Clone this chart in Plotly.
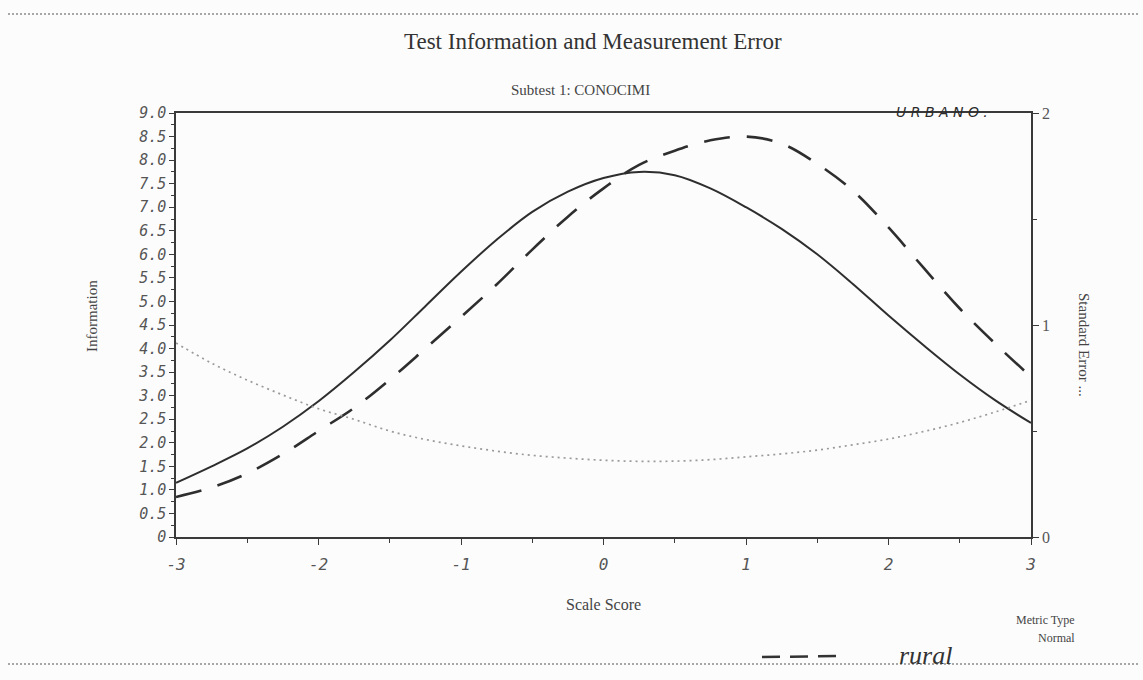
import plotly.graph_objects as go

# Scale scores on the horizontal axis
scale_score = [-3, -2.75, -2.5, -2.25, -2, -1.75, -1.5, -1.25, -1, -0.75, -0.5, -0.25,
               0, 0.25, 0.5, 0.75, 1, 1.25, 1.5, 1.75, 2, 2.25, 2.5, 2.75, 3]

# Test information, urban group (solid)
info_urbano = [1.15, 1.5, 1.88, 2.34, 2.88, 3.5, 4.17, 4.9, 5.63, 6.31, 6.9, 7.33,
               7.62, 7.75, 7.68, 7.4, 7.0, 6.54, 6.0, 5.37, 4.7, 4.06, 3.45, 2.9, 2.42]

# Test information, rural group (dashed)
info_rural = [0.85, 1.05, 1.35, 1.76, 2.25, 2.74, 3.34, 4.0, 4.67, 5.36, 6.1, 6.8,
              7.4, 7.9, 8.2, 8.42, 8.5, 8.35, 7.92, 7.35, 6.57, 5.7, 4.85, 4.1, 3.4]

# Standard error of measurement (dotted, right axis)
std_error = [0.915, 0.82, 0.74, 0.67, 0.605, 0.555, 0.5, 0.46, 0.43, 0.405, 0.385, 0.372,
             0.362, 0.357, 0.358, 0.365, 0.378, 0.392, 0.41, 0.435, 0.462, 0.498, 0.54, 0.59, 0.645]

info_ticks = [i * 0.5 for i in range(19)]
info_ticktext = ["0"] + [f"{v:.1f}" for v in info_ticks[1:]]
x_ticks = [-3, -2, -1, 0, 1, 2, 3]
se_ticks = [0, 1, 2]

W, H = 1143, 680
L, R, T, B = 176, 1031, 113, 537


def px(xp):
    return (xp - L) / (R - L)


def py(yp):
    return (B - yp) / (B - T)


ink = "#3a3a3a"
serif = "Liberation Serif"
tickfont = dict(family="DejaVu Sans Mono", size=15, color="#555555", style="italic")

fig = go.Figure()

fig.add_trace(go.Scatter(
    x=scale_score, y=info_urbano, mode="lines",
    line=dict(color="#2e2e2e", width=2, shape="spline", smoothing=1.0),
    showlegend=False, name="Urbano",
))
fig.add_trace(go.Scatter(
    x=scale_score, y=info_rural, mode="lines",
    line=dict(color="#2e2e2e", width=2.6, dash="26px,17px", shape="spline", smoothing=1.0),
    showlegend=False, name="Rural",
))
fig.add_trace(go.Scatter(
    x=scale_score, y=std_error, mode="lines", yaxis="y2",
    line=dict(color="#9a9a9a", width=1.7, dash="2px,4px", shape="spline", smoothing=1.0),
    showlegend=False, name="Standard Error",
))

fig.update_layout(
    width=W, height=H,
    margin=dict(l=L, r=W - R, t=T, b=H - B),
    paper_bgcolor="#fcfcfc",
    plot_bgcolor="#fcfcfc",
    xaxis=dict(
        range=[-3, 3], tickvals=x_ticks, ticktext=[str(v) for v in x_ticks],
        showline=True, linecolor=ink, linewidth=1.5, mirror=True,
        ticks="outside", ticklen=6, tickcolor=ink, showgrid=False, zeroline=False,
        ticklabelstandoff=6,
        tickfont=dict(family="DejaVu Sans Mono", size=16, color="#555555", style="italic"),
        minor=dict(dtick=0.5, ticks="outside", ticklen=4, tickcolor=ink),
    ),
    yaxis=dict(
        range=[0, 9], tickvals=info_ticks, ticktext=info_ticktext,
        showline=True, linecolor=ink, linewidth=1.5,
        ticks="outside", ticklen=5, tickcolor=ink, showgrid=False, zeroline=False,
        tickfont=tickfont,
        minor=dict(dtick=0.25, ticks="outside", ticklen=3, tickcolor=ink),
    ),
    yaxis2=dict(
        range=[0, 2], overlaying="y", side="right", tickvals=se_ticks,
        ticktext=[str(v) for v in se_ticks],
        showline=True, linecolor=ink, linewidth=1.5,
        ticks="outside", ticklen=6, tickcolor=ink, showgrid=False, zeroline=False,
        tickfont=dict(family=serif, size=16, color="#555555"),
        minor=dict(dtick=0.5, ticks="outside", ticklen=4, tickcolor=ink),
    ),
    font=dict(family=serif, color=ink),
)

annotations = [
    dict(text="Test Information and Measurement Error", x=px(593), y=py(42),
         font=dict(family=serif, size=23, color="#333333")),
    dict(text="Subtest 1: CONOCIMI", x=px(580), y=py(90),
         font=dict(family=serif, size=15, color="#444444")),
    dict(text="U R B A N O .", x=px(942), y=py(112),
         font=dict(family="DejaVu Sans", size=14, color="#2a2a2a", style="italic")),
    dict(text="Scale Score", x=px(603), y=py(604),
         font=dict(family=serif, size=16, color="#444444")),
    dict(text="Information", x=px(92), y=py(316), textangle=-90,
         font=dict(family=serif, size=15, color="#444444")),
    dict(text="Standard Error ...", x=px(1084), y=py(345), textangle=90,
         font=dict(family=serif, size=15, color="#444444")),
    dict(text="Metric Type", x=px(1045), y=py(620),
         font=dict(family=serif, size=12, color="#444444")),
    dict(text="Normal", x=px(1056), y=py(638),
         font=dict(family=serif, size=12, color="#444444")),
    dict(text="rural", x=px(925), y=py(655),
         font=dict(family=serif, size=26, color="#333333", style="italic")),
]
for a in annotations:
    a.update(xref="paper", yref="paper", showarrow=False, xanchor="center", yanchor="middle")
fig.update_layout(annotations=annotations)

shapes = [
    dict(type="line", x0=px(8), x1=px(1140), y0=py(14), y1=py(14),
         line=dict(color="#8a8a8a", width=1.5, dash="2px,2px")),
    dict(type="line", x0=px(8), x1=px(1140), y0=py(664), y1=py(664),
         line=dict(color="#8a8a8a", width=1.5, dash="2px,2px")),
    dict(type="line", x0=px(762), x1=px(845), y0=py(657), y1=py(656),
         line=dict(color="#333333", width=2.5, dash="18px,10px")),
]
for s in shapes:
    s.update(xref="paper", yref="paper")
fig.update_layout(shapes=shapes)

fig.write_html("out.html")
